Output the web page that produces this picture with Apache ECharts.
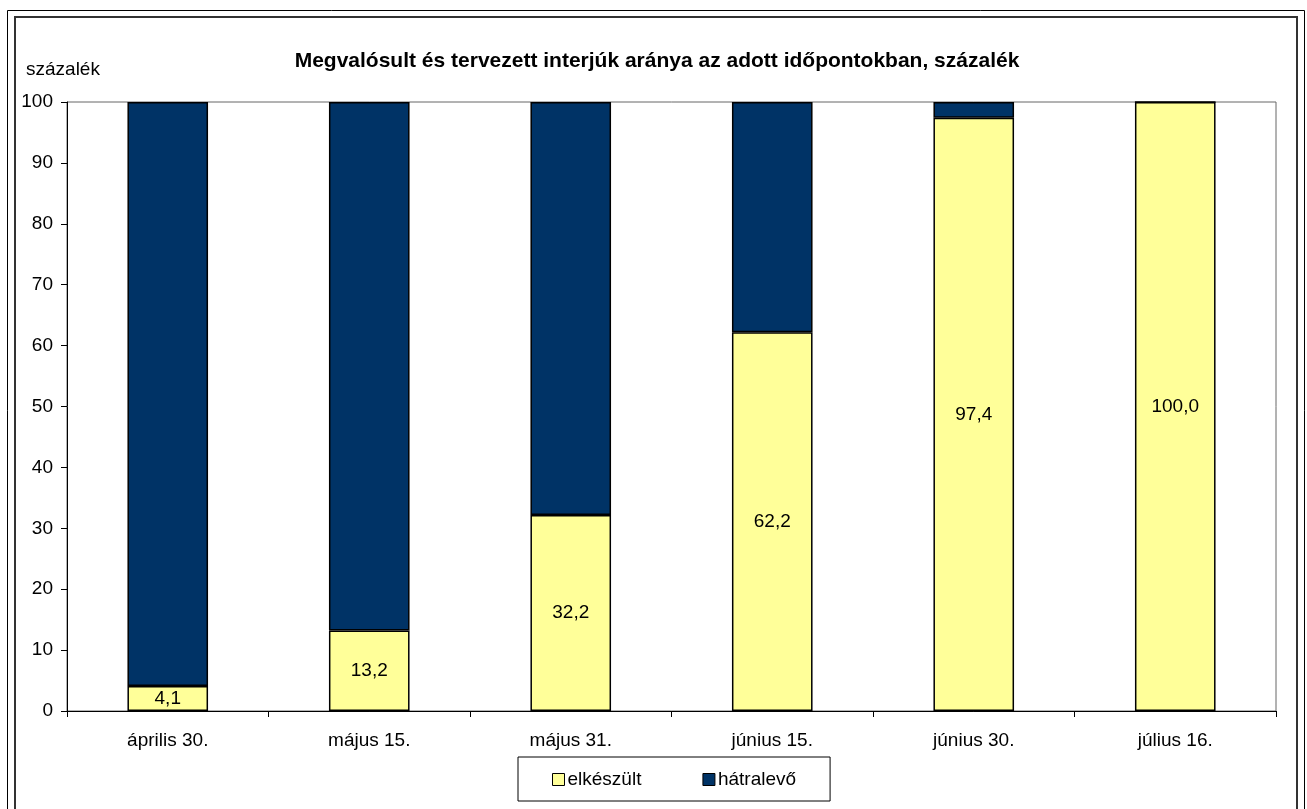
<!doctype html>
<html lang="hu">
<head>
<meta charset="UTF-8">
<title>Megvalósult és tervezett interjúk</title>
<script src="https://cdn.jsdelivr.net/npm/echarts@6/dist/echarts.min.js"></script>
<style>
  html, body { margin: 0; padding: 0; background: #fff; }
  #main { width: 1307px; height: 809px; }
</style>
</head>
<body>
<div id="main"></div>
<script>
// adatok
var categories = ['április 30.', 'május 15.', 'május 31.', 'június 15.', 'június 30.', 'július 16.'];
var elkeszult = [4.1, 13.2, 32.2, 62.2, 97.4, 100.0];
var hatralevo = [95.9, 86.8, 67.8, 37.8, 2.6, 0];
var yTicks = [0, 10, 20, 30, 40, 50, 60, 70, 80, 90, 100];

var font = 'Arial, "Liberation Sans", sans-serif';

var chart = echarts.init(document.getElementById('main'));

chart.setOption({
    animation: false,
    backgroundColor: '#fff',
    textStyle: { fontFamily: font, color: '#000' },
    title: [{
        text: 'Megvalósult és tervezett interjúk aránya az adott időpontokban, százalék',
        left: 652,
        textAlign: 'center',
        top: 46,
        textStyle: { fontFamily: font, fontSize: 21, fontWeight: 'bold', color: '#000' }
    }, {
        text: 'százalék',
        left: 21,
        top: 55,
        textStyle: { fontFamily: font, fontSize: 19, fontWeight: 'normal', color: '#000' }
    }],
    graphic: [
        { type: 'rect', shape: { x: 7.5, y: 10.5, width: 1297, height: 900 },
          style: { fill: 'none', stroke: '#000', lineWidth: 1 }, silent: true },
        { type: 'rect', shape: { x: 15, y: 17, width: 1282, height: 900 },
          style: { fill: 'none', stroke: '#333', lineWidth: 2 }, silent: true }
    ],
    legend: {
        left: 518,
        top: 757,
        padding: [13, 34, 12, 34],
        itemGap: 61,
        itemWidth: 12,
        itemHeight: 12,
        icon: 'rect',
        borderColor: '#000',
        borderWidth: 1,
        backgroundColor: '#fff',
        itemStyle: { borderColor: '#000', borderWidth: 1 },
        textStyle: { fontFamily: font, fontSize: 19, color: '#000', padding: [0, 0, 0, -2] },
        data: ['elkészült', 'hátralevő']
    },
    grid: {
        left: 67,
        right: 31,
        top: 102,
        bottom: 98,
        show: true,
        borderColor: '#666',
        borderWidth: 1
    },
    xAxis: {
        type: 'category',
        data: categories,
        axisLine: { lineStyle: { color: '#000', width: 1 } },
        axisTick: { show: true, length: 6, lineStyle: { color: '#000' } },
        axisLabel: { fontFamily: font, fontSize: 19, color: '#000', margin: 20 }
    },
    yAxis: {
        type: 'value',
        min: 0,
        max: 100,
        interval: 10,
        splitLine: { show: false },
        axisLine: { show: true, lineStyle: { color: '#000', width: 1 } },
        axisTick: { show: true, length: 6, lineStyle: { color: '#000' } },
        axisLabel: {
            fontFamily: font, fontSize: 19, color: '#000', margin: 14,
            formatter: function (v) { return yTicks.indexOf(v) >= 0 ? String(v) : ''; }
        }
    },
    series: [{
        name: 'elkészült',
        type: 'bar',
        stack: 'a',
        barWidth: '40%',
        data: elkeszult,
        itemStyle: { color: '#FFFF99', borderColor: '#000', borderWidth: 1.5 },
        label: {
            show: true,
            position: 'inside',
            fontFamily: font,
            fontSize: 19,
            color: '#000',
            formatter: function (p) { return p.value.toFixed(1).replace('.', ','); }
        }
    }, {
        name: 'hátralevő',
        type: 'bar',
        stack: 'a',
        barWidth: '40%',
        data: hatralevo,
        itemStyle: { color: '#003366', borderColor: '#000', borderWidth: 1.5 }
    }]
});
</script>
</body>
</html>
